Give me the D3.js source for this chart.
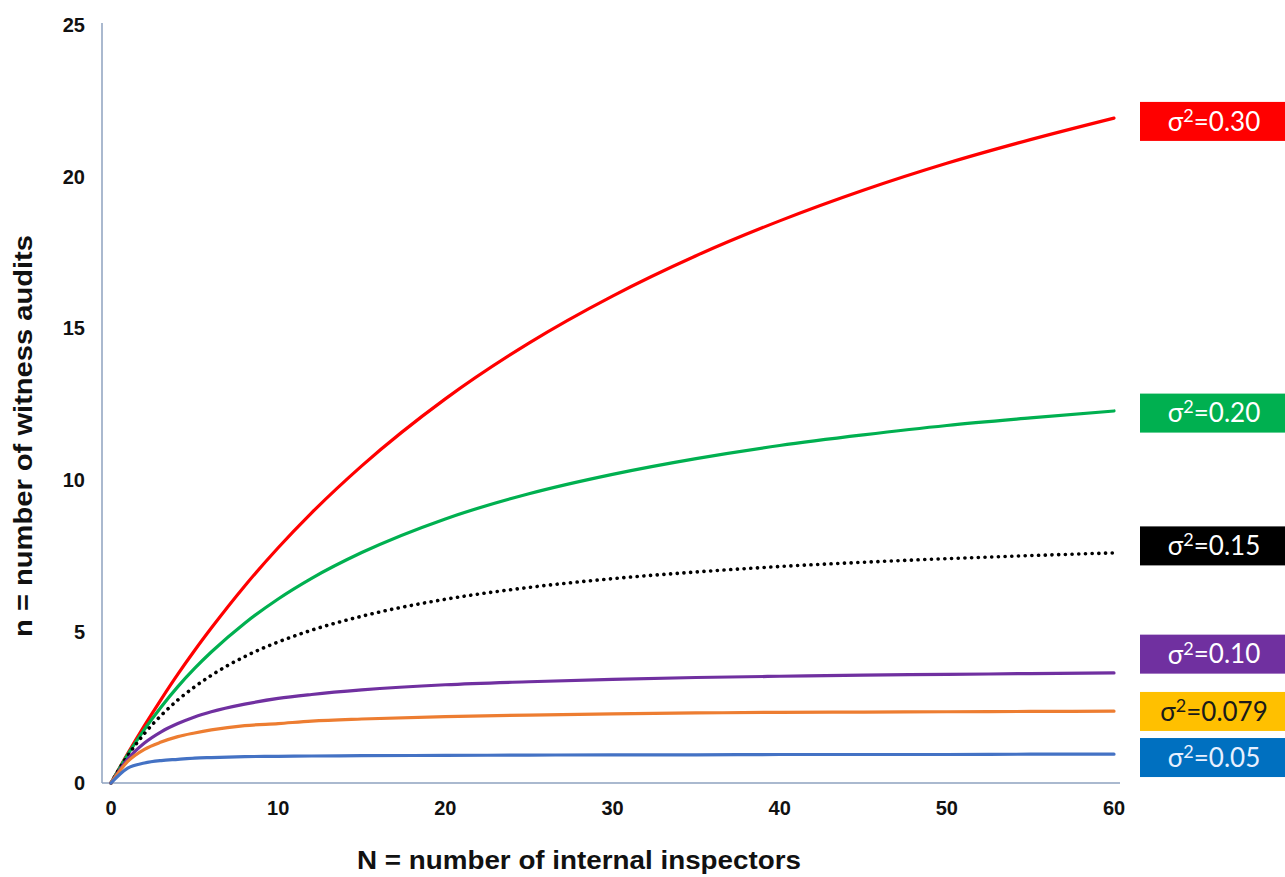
<!DOCTYPE html>
<html>
<head>
<meta charset="utf-8">
<script src="https://cdn.jsdelivr.net/npm/d3@7/dist/d3.min.js"></script>
<style>
  html, body { margin: 0; padding: 0; background: #fff; }
  svg { display: block; }
</style>
</head>
<body>
<svg id="chart" width="1285" height="877"></svg>
<script>
// Number of internal inspectors (x)
const inspectors = [0, 1, 2, 3, 4, 5, 6, 8, 10, 12, 15, 20, 25, 30, 35, 40, 45, 50, 55, 60];

// Number of witness audits for each variance (y)
const audits030 = [0, 0.97, 1.89, 2.76, 3.59, 4.37, 5.11, 6.50, 7.76, 8.91, 10.46, 12.67, 14.51, 16.06, 17.39, 18.54, 19.55, 20.44, 21.22, 21.93];
const audits020 = [0, 0.94, 1.77, 2.51, 3.18, 3.78, 4.32, 5.27, 6.07, 6.75, 7.60, 8.71, 9.54, 10.18, 10.70, 11.13, 11.48, 11.79, 12.04, 12.27];
const audits015 = [0, 0.90, 1.63, 2.23, 2.74, 3.17, 3.55, 4.17, 4.65, 5.04, 5.50, 6.06, 6.45, 6.74, 6.96, 7.14, 7.28, 7.40, 7.50, 7.59];
const audits010 = [0, 0.79, 1.32, 1.69, 1.96, 2.18, 2.35, 2.60, 2.79, 2.92, 3.07, 3.24, 3.34, 3.42, 3.48, 3.52, 3.56, 3.58, 3.61, 3.63];
const audits0079 = [0, 0.71, 1.11, 1.35, 1.53, 1.65, 1.75, 1.89, 1.96, 2.04, 2.11, 2.19, 2.24, 2.28, 2.31, 2.33, 2.34, 2.35, 2.36, 2.37];
const audits005 = [0, 0.49, 0.66, 0.74, 0.78, 0.82, 0.84, 0.87, 0.88, 0.89, 0.90, 0.91, 0.92, 0.93, 0.93, 0.94, 0.94, 0.94, 0.95, 0.95];

// Variance labels
const varianceLabels = ["0.30", "0.20", "0.15", "0.10", "0.079", "0.05"];

// Axis ticks
const xTicks = [0, 10, 20, 30, 40, 50, 60];
const yTicks = [0, 5, 10, 15, 20, 25];

// ---- styling / layout ----
const seriesValues = [audits030, audits020, audits015, audits010, audits0079, audits005];
const lineColors = ["#ff0000", "#00b050", "#000000", "#7030a0", "#ed7d31", "#4472c4"];
const boxColors  = ["#ff0000", "#00b050", "#000000", "#7030a0", "#ffc000", "#0070c0"];
const boxText    = ["#ffffff", "#ffffff", "#ffffff", "#ffffff", "#1a1a1a", "#e8f0ff"];
const dotted     = [false, false, true, false, false, false];
// vertical nudge (data units) so the tags do not overlap
const tagNudge   = [-0.11, -0.07, 0.23, 0.62, -0.01, -0.11];

const svg = d3.select("#chart");

const x = d3.scaleLinear().domain([0, 60]).range([111, 1114]);
const y = d3.scaleLinear().domain([0, 25]).range([783, 25]);

const axisColor = "#8ea2bf";

// axis lines
svg.append("line")
  .attr("x1", 102).attr("x2", 102)
  .attr("y1", y(25) - 2).attr("y2", y(0))
  .attr("stroke", axisColor).attr("stroke-width", 1.5);
svg.append("line")
  .attr("x1", 102).attr("x2", 1120)
  .attr("y1", y(0)).attr("y2", y(0))
  .attr("stroke", axisColor).attr("stroke-width", 1.5);

// tick labels
const tickFont = "'Liberation Sans', Arial, sans-serif";
svg.append("g").selectAll("text")
  .data(yTicks).join("text")
  .attr("x", 85)
  .attr("y", d => y(d))
  .attr("dy", "0.36em")
  .attr("text-anchor", "end")
  .attr("font-family", tickFont)
  .attr("font-weight", "bold")
  .attr("font-size", 20)
  .attr("fill", "#111")
  .text(d => d);

svg.append("g").selectAll("text")
  .data(xTicks).join("text")
  .attr("x", d => x(d))
  .attr("y", 815)
  .attr("text-anchor", "middle")
  .attr("font-family", tickFont)
  .attr("font-weight", "bold")
  .attr("font-size", 20)
  .attr("fill", "#111")
  .text(d => d);

// axis titles
svg.append("text")
  .attr("x", 579).attr("y", 869)
  .attr("text-anchor", "middle")
  .attr("font-family", tickFont)
  .attr("font-weight", "bold")
  .attr("font-size", 25)
  .attr("textLength", 444)
  .attr("lengthAdjust", "spacingAndGlyphs")
  .attr("fill", "#111")
  .text("N = number of internal inspectors");

svg.append("text")
  .attr("transform", "translate(32,436) rotate(-90)")
  .attr("text-anchor", "middle")
  .attr("font-family", tickFont)
  .attr("font-weight", "bold")
  .attr("font-size", 25)
  .attr("textLength", 402)
  .attr("lengthAdjust", "spacingAndGlyphs")
  .attr("fill", "#111")
  .text("n = number of witness audits");

// curves
const line = d3.line()
  .x((d, i) => x(inspectors[i]))
  .y(d => y(d))
  .curve(d3.curveMonotoneX);

seriesValues.forEach((vals, k) => {
  const p = svg.append("path")
    .datum(vals)
    .attr("d", line)
    .attr("fill", "none")
    .attr("stroke", lineColors[k])
    .attr("stroke-linecap", "round")
    .attr("stroke-linejoin", "round");
  if (dotted[k]) {
    p.attr("stroke-width", 3.6).attr("stroke-dasharray", "0.1 6.6");
  } else {
    p.attr("stroke-width", 3.2);
  }
});

// variance tags on the right
const tagH = 39;
const tags = svg.append("g").selectAll("g")
  .data(varianceLabels).join("g")
  .attr("transform", (d, k) => {
    const last = seriesValues[k][seriesValues[k].length - 1];
    return `translate(0,${y(last + tagNudge[k])})`;
  });

tags.append("rect")
  .attr("x", 1140).attr("y", -tagH / 2)
  .attr("width", 150).attr("height", tagH)
  .attr("fill", (d, k) => boxColors[k]);

const tagText = tags.append("text")
  .attr("x", 1214).attr("y", 0)
  .attr("dy", "0.36em")
  .attr("text-anchor", "middle")
  .attr("font-family", "Lato, 'Open Sans', sans-serif")
  .attr("font-size", 26)
  .attr("fill", (d, k) => boxText[k]);

tagText.append("tspan").text("σ");
tagText.append("tspan")
  .attr("font-size", 18)
  .attr("dy", "-0.5em")
  .text("2");
tagText.append("tspan")
  .attr("dy", "0.34em")
  .text(d => "=" + d);
</script>
</body>
</html>
